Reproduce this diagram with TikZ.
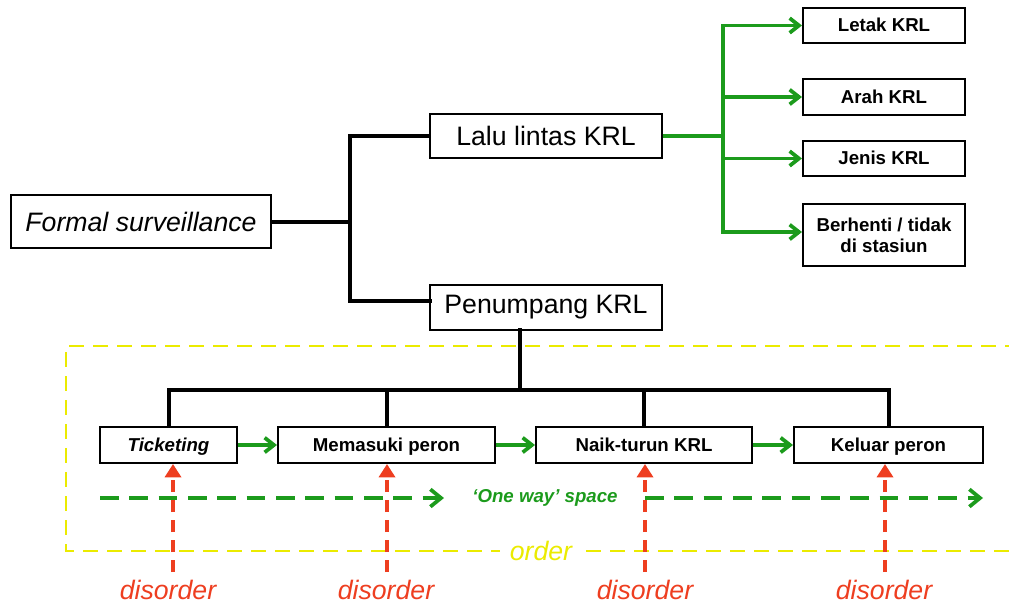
\documentclass[tikz,border=0pt]{standalone}
\usepackage{fontspec}
\setmainfont{Liberation Sans}
\usetikzlibrary{arrows.meta}
\definecolor{flowgreen}{RGB}{28,155,28}
\definecolor{alertred}{RGB}{238,62,32}
\definecolor{zoneyellow}{RGB}{235,235,0}
\begin{document}
\begin{tikzpicture}[x=0.75pt,y=-0.75pt,
  box/.style={draw=black,line width=1.5pt,fill=white,inner sep=0pt},
  bigtext/.style={font=\fontsize{20}{24}\selectfont},
  smalltext/.style={font=\fontsize{14}{16}\selectfont\bfseries,align=center},
  oneline/.style={text height=10pt,text depth=1pt},
  blk/.style={line width=3pt,line cap=rect},
  grn/.style={draw=flowgreen,line width=2.8pt},
  grnarrow/.style={grn,-{Straight Barb[length=7pt,width=11pt]}},
  oneway/.style={draw=flowgreen,line width=2.8pt,dash pattern=on 14pt off 8pt,
    -{Straight Barb[length=8pt,width=13pt]}},
  redarrow/.style={draw=alertred,line width=2.6pt,dash pattern=on 9pt off 6pt,
    -{Triangle[length=10pt,width=12pt]}},
  zone/.style={draw=zoneyellow,line width=2pt,dash pattern=on 11pt off 7pt},
  dlabel/.style={text=alertred,font=\fontsize{20}{24}\selectfont\itshape}]
\useasboundingbox (0,0) rectangle (1009,604);
\clip (0,0) rectangle (1009,604);

% ordered zone
\draw[zone] (1020,346) -- (66,346) -- (66,551) -- (500,551);
\draw[zone] (586,551) -- (1020,551);
\node[text=zoneyellow,font=\fontsize{20}{24}\selectfont\itshape] (order) at (541,551) {order};

% top level nodes
\node[box,bigtext,minimum width=195pt,minimum height=39.75pt] (fs) at (141,221.5) {\itshape Formal surveillance};
\node[box,bigtext,minimum width=174pt,minimum height=33pt] (lalu) at (546,136) {Lalu lintas KRL};
\node[box,bigtext,minimum width=174pt,minimum height=33.75pt] (pen) at (546,307.5) {Penumpang KRL};

% traffic attributes
\node[box,smalltext,oneline,minimum width=121.5pt,minimum height=26.25pt] (letak) at (884,25.5) {Letak KRL};
\node[box,smalltext,oneline,minimum width=121.5pt,minimum height=27pt] (arah) at (884,97) {Arah KRL};
\node[box,smalltext,oneline,minimum width=121.5pt,minimum height=26.25pt] (jenis) at (884,158.5) {Jenis KRL};
\node[box,smalltext,minimum width=121.5pt,minimum height=46.5pt] (henti) at (884,235) {Berhenti / tidak\\di stasiun};

% passenger stages
\node[box,smalltext,oneline,minimum width=102.75pt,minimum height=27pt] (tick) at (168.5,445) {\itshape Ticketing};
\node[box,smalltext,oneline,minimum width=162.75pt,minimum height=27pt] (mem) at (386.5,445) {Memasuki peron};
\node[box,smalltext,oneline,minimum width=162pt,minimum height=27pt] (naik) at (644,445) {Naik-turun KRL};
\node[box,smalltext,oneline,minimum width=141.75pt,minimum height=27pt] (kel) at (888.5,445) {Keluar peron};

% hierarchy connectors
\coordinate (j1) at (350,221.5);
\coordinate (penin) at (430,301);
\draw[blk] (fs.east) -- (j1);
\draw[blk] (lalu.west) -| (j1) |- (penin);
\coordinate (pout) at (520,330);
\coordinate (bus) at (520,390);
\draw[blk] (pout) -- (bus);
\draw[blk] (bus) -| (tick.north);
\draw[blk] (bus) -| (kel.north);
\draw[blk] (bus -| mem.north) -- (mem.north);
\draw[blk] (bus -| naik.north) -- (naik.north);

% traffic branches
\coordinate (g) at (723,136);
\draw[grn] (lalu.east) -- (g);
\draw[grn] (723,25.5) -- (723,232);
\draw[grnarrow] (g) |- (letak.west);
\draw[grnarrow] (g) |- (arah.west);
\draw[grnarrow] (g) |- (jenis.west);
\draw[grnarrow] (g) |- (henti.west |- 0,232);

% stage sequence
\draw[grnarrow] (tick.east) -- (mem.west);
\draw[grnarrow] (mem.east) -- (naik.west);
\draw[grnarrow] (naik.east) -- (kel.west);

% one way flow
\node[text=flowgreen,font=\fontsize{14}{16}\selectfont\bfseries\itshape] (ow) at (545,498) {‘One way’ space};
\coordinate (owA) at (100,498);
\coordinate (owB) at (444,498);
\coordinate (owC) at (645,498);
\coordinate (owD) at (983,498);
\draw[oneway] (owA) -- (owB);
\draw[oneway] (owC) -- (owD);

% disorder pressures
\node[dlabel] (d1) at (168,590) {disorder};
\node[dlabel] (d2) at (386,590) {disorder};
\node[dlabel] (d3) at (645,590) {disorder};
\node[dlabel] (d4) at (884,590) {disorder};
\draw[redarrow] (173,572) -- (tick.south -| 173,0);
\draw[redarrow] (387,572) -- (mem.south -| 387,0);
\draw[redarrow] (645,572) -- (naik.south -| 645,0);
\draw[redarrow] (885,572) -- (kel.south -| 885,0);
\end{tikzpicture}
\end{document}
